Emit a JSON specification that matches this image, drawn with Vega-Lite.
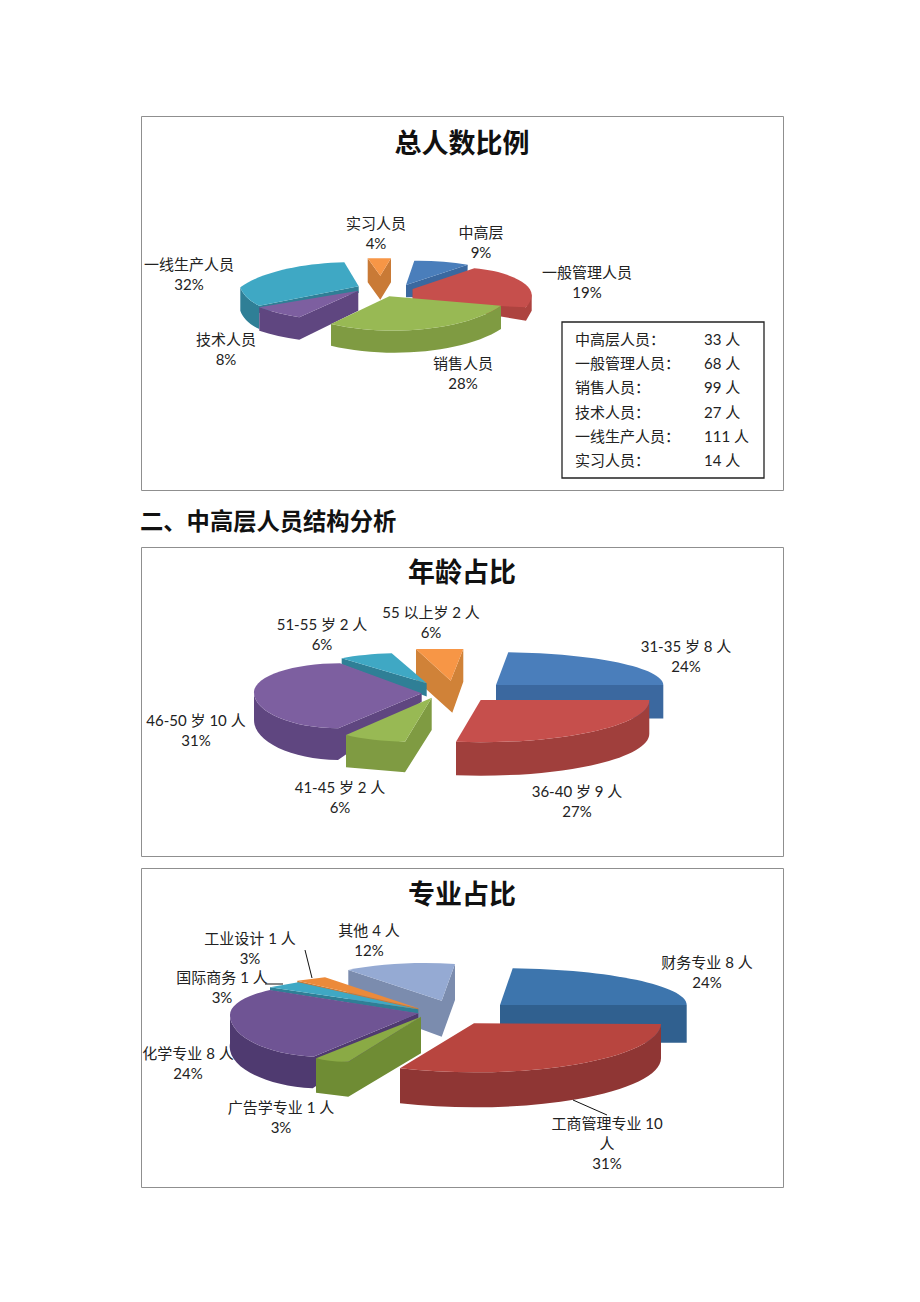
{
"$schema":"https://vega.github.io/schema/vega-lite/v6.json",
"background":"white",
"padding":{"left":140,"top":115,"right":137,"bottom":115},
"spacing":10,
"config":{"view":{"stroke":"#8f8f8f"},"text":{"font":"Lato, Noto Sans CJK SC"},"title":{"font":"Lato, Noto Sans CJK SC"}},
"datasets":{
"total":[
{"slice":6,"name":"实习人员","people":14,"label":"实习人员\n4%"},
{"slice":1,"name":"中高层","people":33,"label":"中高层\n9%"},
{"slice":2,"name":"一般管理人员","people":68,"label":"一般管理人员\n19%"},
{"slice":5,"name":"一线生产人员","people":111,"label":"一线生产人员\n32%"},
{"slice":4,"name":"技术人员","people":27,"label":"技术人员\n8%"},
{"slice":3,"name":"销售人员","people":99,"label":"销售人员\n28%"}],
"age":[
{"slice":1,"name":"31-35岁","people":8,"label":"31-35 岁 8 人\n24%"},
{"slice":2,"name":"36-40岁","people":9,"label":"36-40 岁 9 人\n27%"},
{"slice":6,"name":"55以上岁","people":2,"label":"55 以上岁 2 人\n6%"},
{"slice":5,"name":"51-55岁","people":2,"label":"51-55 岁 2 人\n6%"},
{"slice":4,"name":"46-50岁","people":10,"label":"46-50 岁 10 人\n31%"},
{"slice":3,"name":"41-45岁","people":2,"label":"41-45 岁 2 人\n6%"}],
"major":[
{"slice":7,"name":"其他","people":4,"label":"其他 4 人\n12%"},
{"slice":1,"name":"财务专业","people":8,"label":"财务专业 8 人\n24%"},
{"slice":2,"name":"工商管理专业","people":10,"label":"工商管理专业 10\n人\n31%"},
{"slice":6,"name":"工业设计","people":1,"label":"工业设计 1 人\n3%"},
{"slice":5,"name":"国际商务","people":1,"label":"国际商务 1 人\n3%"},
{"slice":4,"name":"化学专业","people":8,"label":"化学专业 8 人\n24%"},
{"slice":3,"name":"广告学专业","people":1,"label":"广告学专业 1 人\n3%"}],
"table":[
{"row":"中高层人员","part":"name","cell":"中高层人员："},{"row":"中高层人员","part":"count","cell":"33 人"},
{"row":"一般管理人员","part":"name","cell":"一般管理人员："},{"row":"一般管理人员","part":"count","cell":"68 人"},
{"row":"销售人员","part":"name","cell":"销售人员："},{"row":"销售人员","part":"count","cell":"99 人"},
{"row":"技术人员","part":"name","cell":"技术人员："},{"row":"技术人员","part":"count","cell":"27 人"},
{"row":"一线生产人员","part":"name","cell":"一线生产人员："},{"row":"一线生产人员","part":"count","cell":"111 人"},
{"row":"实习人员","part":"name","cell":"实习人员："},{"row":"实习人员","part":"count","cell":"14 人"}]
},
"vconcat":[
{"width":642,"height":374,
"title":{"text":"总人数比例","fontSize":27,"fontWeight":"bold","color":"#111","anchor":"middle","offset":-43},
"data":{"name":"total"},
"resolve":{"scale":{"color":"independent","shape":"independent","x":"independent","y":"independent"}},
"layer":[
{"mark":{"type":"point","filled":true,"size":4,"opacity":1},
"encoding":{
"color":{"field":"name","type":"nominal","legend":null,"scale":{"domain":["中高层","一般管理人员","销售人员","技术人员","一线生产人员","实习人员"],"range":["#3b689f","#ad433f","#7f9b42","#5f4680","#2f7f96","#c97a36"]}},
"shape":{"field":"name","type":"nominal","legend":null,"scale":{"domain":["中高层","一般管理人员","销售人员","技术人员","一线生产人员","实习人员"],"range":[
"M-56,-18 L-56,-5.7 L5,-5.7 L5.7,-38.3 Z",
"M-49.3,-14 L-49.3,-1 L64,17.7 L69.7,7.7 L69.7,-9 L64,4.3 Z",
"M39,2.7 L39,26 A125 50 0 0 1 -131,42.7 L-131,21 A125 50 0 0 0 39,2.7 Z",
"M-202.7,4.3 L-202.7,27.7 A125 50 0 0 0 -162.7,36.7 L-103.7,7.7 L-103.7,-12.3 L-162.7,14.3 A125 50 0 0 1 -202.7,4.3 Z",
"M-221.7,-15.7 L-221.7,7.7 A45 30 0 0 0 -202.7,26 L-202.7,10 L-103.3,-10 L-103.3,-16.7 L-202.7,2.7 A45 30 0 0 1 -221.7,-15.7 Z",
"M-94.3,-44.7 L-94.3,-20.7 L-81.7,-3.3 L-71,-20.7 L-71,-44.7 L-81.7,-27.3 Z"]}}}},
{"mark":{"type":"point","filled":true,"size":4,"opacity":1},
"encoding":{
"color":{"field":"name","type":"nominal","legend":null,"scale":{"domain":["中高层","一般管理人员","销售人员","技术人员","一线生产人员","实习人员"],"range":["#4a7ebb","#c64f4c","#98b954","#7d5fa0","#3fa8c4","#f79646"]}},
"shape":{"field":"name","type":"nominal","legend":null,"scale":{"domain":["中高层","一般管理人员","销售人员","技术人员","一线生产人员","实习人员"],"range":[
"M-56,-18 L-47.7,-42.3 A125 50 0 0 1 5.7,-38.3 Z",
"M-49.3,-14 L12.3,-34.7 C45,-32 70,-20 69.7,-8 C69.5,-3 67,1 64,4.3 L-49.3,-1 Z",
"M-72.7,-6.7 L39,2.7 A125 50 0 0 1 -131,21 Z",
"M-103.7,-12.3 L-202.7,4.3 A125 50 0 0 0 -162.7,14.3 Z",
"M-103.3,-16.7 L-117.7,-40.7 A125 45 0 0 0 -221.7,-15.7 A45 30 0 0 0 -202.7,2.7 Z",
"M-94.3,-44.7 L-71,-44.7 L-81.7,-27.3 Z"]}}}},
{"mark":{"type":"text","fontSize":15,"lineHeight":20,"lineBreak":"\n","color":"#222"},
"encoding":{
"text":{"field":"label"},
"x":{"field":"slice","type":"quantitative","axis":null,"scale":{"domain":[1,2,3,4,5,6],"range":[340,446,322,85,48,235],"zero":false,"nice":false}},
"y":{"field":"slice","type":"quantitative","axis":null,"scale":{"domain":[1,2,3,4,5,6],"range":[117,156.5,248,224,149,108],"zero":false,"nice":false}}}},
{"data":{"values":[{"box":"人数表"}]},
"mark":{"type":"point","filled":false,"size":4,"opacity":1,"stroke":"#222","strokeWidth":1.3,"shape":"M100,19 L302,19 L302,175 L100,175 Z"},"encoding":{}},
{"data":{"name":"table"},
"mark":{"type":"text","fontSize":15,"align":"left","color":"#222"},
"encoding":{
"text":{"field":"cell"},
"x":{"field":"part","type":"nominal","axis":null,"scale":{"type":"point","padding":0,"domain":["name","count"],"range":[434,563]}},
"y":{"field":"row","type":"nominal","axis":null,"scale":{"type":"point","padding":0,"domain":["中高层人员","一般管理人员","销售人员","技术人员","一线生产人员","实习人员"],"range":[224,345]}}}}
]},
{"width":642,"height":35,"view":{"stroke":null},
"data":{"values":[{"pos":"start","heading":"二、中高层人员结构分析"}]},
"mark":{"type":"text","fontSize":23.3,"fontWeight":"bold","align":"left","dy":4,"color":"#111"},
"encoding":{"text":{"field":"heading"},
"x":{"field":"pos","type":"nominal","axis":null,"scale":{"type":"point","padding":0,"domain":["start","end"],"range":[-1,641]}}}},
{"width":642,"height":309,
"title":{"text":"年龄占比","fontSize":27,"fontWeight":"bold","color":"#111","anchor":"middle","offset":-41},
"data":{"name":"age"},
"resolve":{"scale":{"color":"independent","shape":"independent"}},
"layer":[
{"mark":{"type":"point","filled":true,"size":4,"opacity":1},
"encoding":{
"color":{"field":"name","type":"nominal","legend":null,"scale":{"domain":["31-35岁","36-40岁","41-45岁","46-50岁","51-55岁","55以上岁"],"range":["#3b689f","#a03f3c","#7f9b42","#5f4680","#2f7f96","#d08238"]}},
"shape":{"field":"name","type":"nominal","legend":null,"scale":{"domain":["31-35岁","36-40岁","41-45岁","46-50岁","51-55岁","55以上岁"],"range":[
"M34,-16.5 L34,17 L201.3,17 L201.3,-16.5 Z",
"M187.3,-1.5 L187.3,32 A168.6 42 0 0 1 -6,73.7 L-6,40.2 A168.6 42 0 0 0 187.3,-1.5 Z",
"M-116,33.5 L-116,65.8 L-57,70.8 L-30.3,28.5 L-30.3,-3.8 L-57,40.2 Z",
"M-208,-9.8 L-208,18.5 A86 40 0 0 0 -124,58.5 L-40.3,0.2 L-40.3,-8.2 L-123.7,26.8 A86 36 0 0 1 -208,-9.8 Z",
"M-120.3,-43.2 L-120.3,-37 L-35.3,-5 L-35.3,-18.2 Z",
"M-46,-52.5 L-46,-21.5 L-9.7,11.2 L1.3,-19.8 L1.3,-52.5 L-11.3,-20.8 Z"]}}}},
{"mark":{"type":"point","filled":true,"size":4,"opacity":1},
"encoding":{
"color":{"field":"name","type":"nominal","legend":null,"scale":{"domain":["31-35岁","36-40岁","41-45岁","46-50岁","51-55岁","55以上岁"],"range":["#4a7ebb","#c64f4c","#98b954","#7d5fa0","#3fa8c4","#f79646"]}},
"shape":{"field":"name","type":"nominal","legend":null,"scale":{"domain":["31-35岁","36-40岁","41-45岁","46-50岁","51-55岁","55以上岁"],"range":[
"M34,-16.5 L46.3,-49.2 A167 33 0 0 1 201.3,-16.5 Z",
"M18.7,-1.5 L187.3,-1.5 A168.6 42 0 0 1 -6,40.2 Z",
"M-30.3,-3.8 L-116,33.5 A100 30 0 0 0 -57,40.2 Z",
"M-40.3,-8.2 L-122,-38.2 A86 29 0 0 0 -208,-9.8 A86 36 0 0 0 -123.7,26.8 Z",
"M-120.3,-43.2 A90 20 0 0 1 -70.3,-48.2 L-35.3,-18.2 Z",
"M-46,-52.5 L1.3,-52.5 L-11.3,-20.8 Z"]}}}},
{"mark":{"type":"text","fontSize":15,"lineHeight":20,"lineBreak":"\n","color":"#222"},
"encoding":{
"text":{"field":"label"},
"x":{"field":"slice","type":"quantitative","axis":null,"scale":{"domain":[1,2,3,4,5,6],"range":[545,436,199,55,181,290],"zero":false,"nice":false}},
"y":{"field":"slice","type":"quantitative","axis":null,"scale":{"domain":[1,2,3,4,5,6],"range":[99.5,245,241,174,78,66],"zero":false,"nice":false}}}}
]},
{"width":642,"height":319,
"title":{"text":"专业占比","fontSize":27,"fontWeight":"bold","color":"#111","anchor":"middle","offset":-42},
"data":{"name":"major"},
"resolve":{"scale":{"color":"independent","shape":"independent"}},
"layer":[
{"mark":{"type":"point","filled":true,"size":4,"opacity":1},
"encoding":{
"color":{"field":"name","type":"nominal","legend":null,"scale":{"domain":["财务专业","工商管理专业","广告学专业","化学专业","国际商务","工业设计","其他"],"range":["#30608f","#8f3634","#6f8c34","#4f3a70","#2f7f96","#c97a36","#7b8cae"]}},
"shape":{"field":"name","type":"nominal","legend":null,"scale":{"domain":["财务专业","工商管理专业","广告学专业","化学专业","国际商务","工业设计","其他"],"range":[
"M38,-22.5 L38,15.2 L224.7,15.2 L224.7,-22.5 Z",
"M199,-3.5 L199,30.8 A187 49 0 0 1 -62,75.8 L-62,40.8 A187 49 0 0 0 199,-3.5 Z",
"M-146,30.8 L-146,65.2 L-113.7,69.2 L-41,25.8 L-41,-10.8 L-113.7,34.2 Z",
"M-232,-12.5 L-232,15.8 A95 42 0 0 0 -149.3,60.8 L-43.7,-9 L-43.7,-14.2 L-148.7,29.2 A95 42 0 0 1 -232,-12.5 Z",
"M-192,-40.2 L-192,-37 L-43.7,-14 L-43.7,-18.2 Z",
"M-164.7,-46.8 L-164.7,-43 L-43.7,-16 L-43.7,-19.2 Z",
"M-113.7,-57.5 L-113.7,-25 L-20.3,9.2 L-7,-27.5 L-7,-63.5 L-20.3,-26.8 Z"]}}}},
{"mark":{"type":"point","filled":true,"size":4,"opacity":1},
"encoding":{
"color":{"field":"name","type":"nominal","legend":null,"scale":{"domain":["财务专业","工商管理专业","广告学专业","化学专业","国际商务","工业设计","其他"],"range":["#3d75ad","#b8453f","#8aaa45","#6f5494","#3fa8c4","#ec8a3a","#95aad3"]}},
"shape":{"field":"name","type":"nominal","legend":null,"scale":{"domain":["财务专业","工商管理专业","广告学专业","化学专业","国际商务","工业设计","其他"],"range":[
"M38,-22.5 L50.7,-59.2 A187 37 0 0 1 224.7,-22.5 Z",
"M12,-4.2 L199,-3.5 A187 49 0 0 1 -62,40.8 Z",
"M-41,-10.8 L-146,30.8 A60 30 0 0 0 -113.7,34.2 Z",
"M-43.7,-14.2 L-192,-37.5 A90 30 0 0 0 -232,-12.5 A95 42 0 0 0 -148.7,29.2 Z",
"M-192,-40.2 L-163.7,-45.2 L-43.7,-18.2 Z",
"M-164.7,-46.8 L-137,-50.2 L-43.7,-19.2 Z",
"M-113.7,-57.5 A120 30 0 0 1 -7,-63.5 L-20.3,-26.8 Z"]}}}},
{"transform":[{"filter":{"field":"name","oneOf":["工商管理专业","国际商务","工业设计"]}}],
"mark":{"type":"point","filled":false,"size":4,"opacity":1,"stroke":"#111","strokeWidth":1},
"encoding":{
"shape":{"field":"name","type":"nominal","legend":null,"scale":{"domain":["工商管理专业","国际商务","工业设计"],"range":[
"M111,72.5 L145,87.5",
"M-197,-43.5 L-179,-43.5",
"M-157,-77.5 L-150,-49.5"]}}}},
{"mark":{"type":"text","fontSize":15,"lineHeight":20,"lineBreak":"\n","color":"#222"},
"encoding":{
"text":{"field":"label"},
"x":{"field":"slice","type":"quantitative","axis":null,"scale":{"domain":[1,2,3,4,5,6,7],"range":[566,466,140,47,81,109,228],"zero":false,"nice":false}},
"y":{"field":"slice","type":"quantitative","axis":null,"scale":{"domain":[1,2,3,4,5,6,7],"range":[94.5,256,240,186,110,71,63],"zero":false,"nice":false}}}}
]}
]}
